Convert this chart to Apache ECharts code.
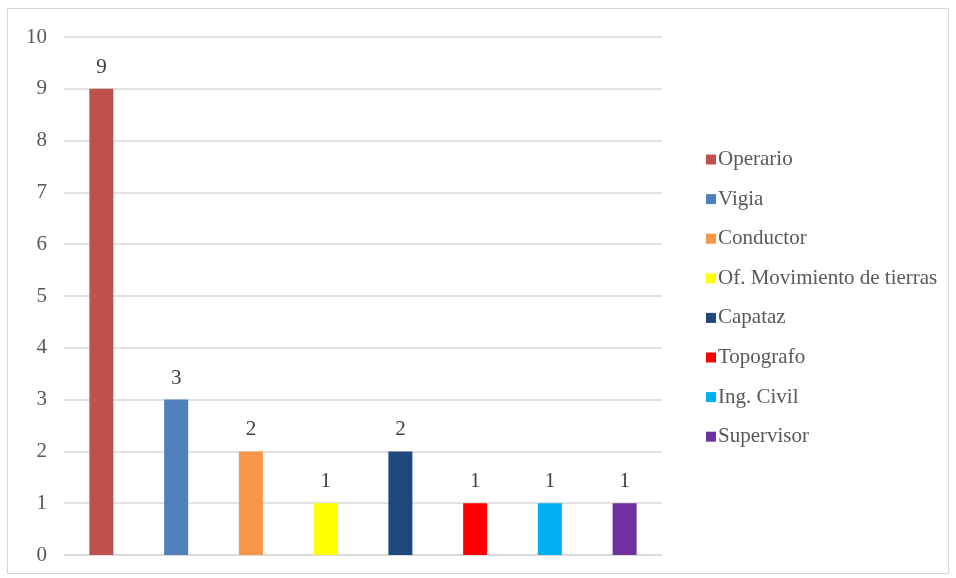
<!DOCTYPE html>
<html><head><meta charset="utf-8">
<script src="https://cdn.jsdelivr.net/npm/echarts@6/dist/echarts.min.js"></script>
<style>
html,body{margin:0;padding:0;background:#fff;}
#frame{position:absolute;left:7px;top:8px;width:942px;height:566px;border:1px solid #d9d9d9;box-sizing:border-box;}
#c{position:absolute;left:0;top:0;width:956px;height:578px;}
</style></head>
<body><div id="frame"></div><div id="c"></div>
<script>
const categories = ['Operario','Vigia','Conductor','Of. Movimiento de tierras','Capataz','Topografo','Ing. Civil','Supervisor'];
const values = [9,3,2,1,2,1,1,1];
const colors = ['#c0504d','#4f81bd','#f79646','#ffff00','#1f497d','#ff0000','#00b0f0','#7030a0'];
const yTicks = {min:0,max:10,interval:1};

const chart = echarts.init(document.getElementById('c'));
const font = '"Liberation Serif","Times New Roman",serif';
const series = categories.map((name,i)=>({
  name, type:'bar', stack:'s', barWidth:24,
  itemStyle:{color:colors[i]},
  data: categories.map((_,j)=> j===i ? values[i] : '-'),
  label:{show:true,position:'top',distance:11,color:'#404040',fontFamily:font,fontSize:21}
}));
chart.setOption({
  animation:false,
  grid:{left:64,right:294,top:37,bottom:23,containLabel:false},
  legend:{orient:'vertical',left:701,top:144,itemWidth:10,itemHeight:10,itemGap:18.6,icon:'rect',
    textStyle:{fontFamily:font,fontSize:21,color:'#595959',padding:[0,0,0,-3]},
    data:categories},
  xAxis:{type:'category',data:categories,axisLine:{show:true,lineStyle:{color:'#d9d9d9',width:1.5}},axisTick:{show:false},axisLabel:{show:false}},
  yAxis:{type:'value',min:yTicks.min,max:yTicks.max,interval:yTicks.interval,
    axisLine:{show:false},axisTick:{show:false},
    axisLabel:{fontFamily:font,fontSize:21,color:'#595959',margin:17},
    splitLine:{lineStyle:{color:'#d9d9d9',width:1.5}}},
  series
});
</script></body></html>
